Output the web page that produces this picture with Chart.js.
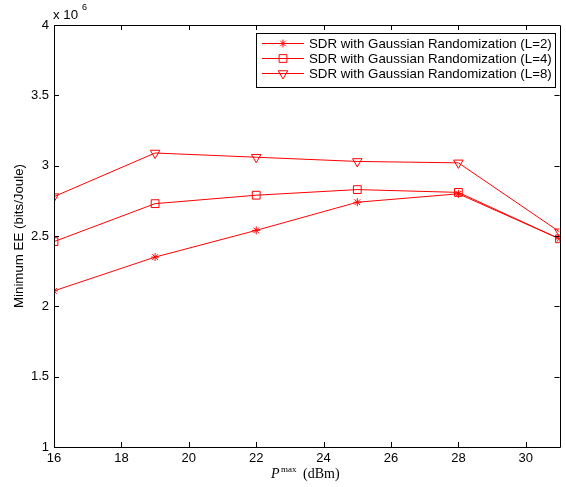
<!DOCTYPE html>
<html><head><meta charset="utf-8">
<script src="https://cdn.jsdelivr.net/npm/chart.js@4/dist/chart.umd.min.js"></script>
<style>html,body{margin:0;padding:0;background:#fff}#wrap{width:566px;height:487px}</style>
</head><body><div id="wrap"><canvas id="c" width="566" height="487"></canvas></div>
<script>
const xValues = [16, 19, 22, 25, 28, 31];
const eeL2 = [2.11, 2.35, 2.54, 2.74, 2.80, 2.48];
const eeL4 = [2.46, 2.73, 2.79, 2.83, 2.81, 2.48];
const eeL8 = [2.78, 3.09, 3.06, 3.03, 3.02, 2.53];
const seriesLabels = ['SDR with Gaussian Randomization (L=2)','SDR with Gaussian Randomization (L=4)','SDR with Gaussian Randomization (L=8)'];
const xTicks = [16, 18, 20, 22, 24, 26, 28, 30];
const yTicks = [1, 1.5, 2, 2.5, 3, 3.5, 4];

const RED = '#ff0000';
const FONT = '"Liberation Sans", Arial, sans-serif';
const SERIF = '"Liberation Serif", "DejaVu Serif", serif';

function mk(vals){ return xValues.map((x,i)=>({x:x,y:vals[i]})); }
const styles = [
  {pointStyle:'star', pointRadius:4, rotation:0},
  {pointStyle:'rect', pointRadius:5.5, rotation:0},
  {pointStyle:'triangle', pointRadius:5.5, rotation:180}
];
const datasets = [eeL2, eeL4, eeL8].map((v,i)=>({
  label: seriesLabels[i], data: mk(v), borderColor: RED, backgroundColor:'rgba(0,0,0,0)',
  borderWidth: 1, pointBorderWidth: 1, pointStyle: styles[i].pointStyle,
  pointRadius: styles[i].pointRadius, pointRotation: styles[i].rotation,
  pointBorderColor: RED, pointBackgroundColor: 'rgba(0,0,0,0)', tension: 0
}));

const deco = {
  id: 'deco',
  afterDraw(chart){
    const ctx = chart.ctx, a = chart.chartArea, xs = chart.scales.x, ys = chart.scales.y;
    ctx.save();
    ctx.strokeStyle = '#000'; ctx.lineWidth = 1;
    ctx.beginPath();
    ctx.rect(Math.round(a.left)+0.5, Math.round(a.top)+0.5, Math.round(a.right-a.left), Math.round(a.bottom-a.top));
    const tl = 5;
    xTicks.forEach(t=>{ const px = Math.round(xs.getPixelForValue(t))+0.5;
      ctx.moveTo(px, a.bottom); ctx.lineTo(px, a.bottom-tl);
      ctx.moveTo(px, a.top); ctx.lineTo(px, a.top+tl); });
    yTicks.forEach(t=>{ const py = Math.round(ys.getPixelForValue(t))+0.5;
      ctx.moveTo(a.left, py); ctx.lineTo(a.left+tl, py);
      ctx.moveTo(a.right, py); ctx.lineTo(a.right-tl, py); });
    ctx.stroke();

    // exponent label
    ctx.fillStyle = '#000';
    ctx.font = '13.3px ' + FONT; ctx.textBaseline = 'alphabetic'; ctx.textAlign = 'left';
    ctx.fillText('x 10', 53, 19);
    ctx.font = '9px ' + FONT; ctx.fillText('6', 82, 10);

    // y title
    ctx.save(); ctx.translate(23, 236); ctx.rotate(-Math.PI/2);
    ctx.font = '13.3px ' + FONT; ctx.textAlign = 'center'; ctx.fillText('Minimum EE (bits/Joule)', 0, 0);
    ctx.restore();

    // x title
    ctx.textAlign = 'left';
    ctx.font = 'italic 14px ' + SERIF;
    ctx.fillText('P', 271, 478);
    ctx.font = '9px ' + SERIF;
    ctx.fillText('max', 281, 472);
    ctx.font = '14px ' + SERIF;
    ctx.fillText('(dBm)', 303, 478);

    // legend
    const lx = 256, ly = 33, lw = 299, lh = 54;
    ctx.fillStyle = '#fff'; ctx.fillRect(lx, ly, lw, lh);
    ctx.strokeStyle = '#000'; ctx.lineWidth = 1;
    ctx.strokeRect(lx+0.5, ly+0.5, lw, lh);
    chart.data.datasets.forEach((ds,i)=>{
      const y = 43.5 + i*15;
      ctx.strokeStyle = RED; ctx.lineWidth = 1;
      ctx.beginPath(); ctx.moveTo(262, y); ctx.lineTo(304, y); ctx.stroke();
      ctx.fillStyle = 'rgba(0,0,0,0)';
      Chart.helpers.drawPoint(ctx, {pointStyle: ds.pointStyle, radius: ds.pointRadius, rotation: ds.pointRotation, borderWidth:1}, 283, y);
      ctx.fillStyle = '#000'; ctx.font = '13.3px ' + FONT; ctx.textBaseline = 'middle';
      ctx.fillText(ds.label, 309, y+0.5);
    });
    ctx.restore();
  }
};

new Chart(document.getElementById('c'), {
  type: 'line',
  data: { datasets },
  options: {
    responsive: false, animation: false, devicePixelRatio: 1,
    layout: { padding: { left: 0, right: 5, top: 25, bottom: 0 } },
    plugins: { legend: { display: false }, tooltip: { enabled: false } },
    scales: {
      x: { type: 'linear', min: 16, max: 31,
        afterBuildTicks: s => { s.ticks = xTicks.map(v=>({value:v})); },
        afterFit: s => { s.height = 40; },
        grid: { display: false, drawTicks: false }, border: { display: false },
        ticks: { color: '#000', font: { family: FONT, size: 13 }, padding: 4, maxRotation: 0, autoSkip: false,
          callback: v => String(+v) } },
      y: { type: 'linear', min: 1, max: 4,
        afterBuildTicks: s => { s.ticks = yTicks.map(v=>({value:v})); },
        afterFit: s => { s.width = 54; },
        grid: { display: false, drawTicks: false }, border: { display: false },
        ticks: { color: '#000', font: { family: FONT, size: 13 }, padding: 5, autoSkip: false,
          callback: v => String(+v) } }
    }
  },
  plugins: [deco]
});
</script></body></html>
